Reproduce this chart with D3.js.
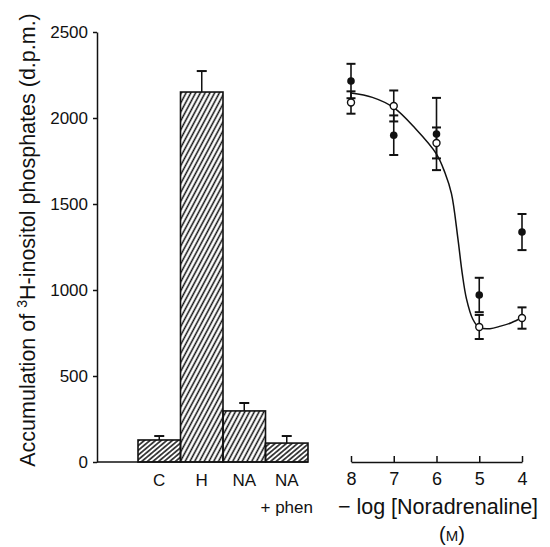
<!DOCTYPE html>
<html>
<head>
<meta charset="utf-8">
<script src="https://cdn.jsdelivr.net/npm/d3@7"></script>
<style>
  body { margin: 0; background: #fff; }
  text { font-family: "Liberation Sans", Arial, sans-serif; fill: #111; }
</style>
</head>
<body>
<script>
// Width and height
var w = 550;
var h = 547;

// Data - bar panel
var barLabels = ["C", "H", "NA", "NA"];
var barValues = [128, 2151, 297, 110];
var barErrors = [23, 122, 46, 41];
var barHatch = ["flat", "steep", "steep", "flat"];

// Data - concentration panel (-log [Noradrenaline])
var logConc = [8, 7, 6, 5, 4];
var openMeans = [2090, 2070, 1855, 785, 837];
var openSem = [65, 90, 90, 70, 62];
var filledMeans = [2215, 1900, 1907, 971, 1337];
var filledSem = [100, 115, 210, 100, 105];

// Fitted curve
var curveX = [8, 7.5, 7, 6.5, 6, 5.8, 5.65, 5.5, 5.4, 5.3, 5.15, 5, 4.75, 4.5, 4.25, 4];
var curveY = [2145, 2120, 2060, 1940, 1790, 1680, 1560, 1300, 1100, 950, 830, 782, 775, 790, 810, 840];

var yTicks = [0, 500, 1000, 1500, 2000, 2500];

var svg = d3.select("body")
            .append("svg")
            .attr("width", w)
            .attr("height", h);

// hatch patterns
var defs = svg.append("defs");
function hatch(id, angle, gap) {
  var p = defs.append("pattern")
              .attr("id", id)
              .attr("patternUnits", "userSpaceOnUse")
              .attr("width", gap)
              .attr("height", 10)
              .attr("patternTransform", "rotate(" + (90 - angle) + ")");
  p.append("line")
   .attr("x1", gap / 2).attr("y1", -2)
   .attr("x2", gap / 2).attr("y2", 12)
   .attr("stroke", "#111")
   .attr("stroke-width", 1.5);
}
hatch("flat", 40, 3.6);
hatch("steep", 62, 4.2);

// Scales
var y = d3.scaleLinear().domain([0, 2500]).range([462, 32]);
var xBar = d3.scaleBand().domain(d3.range(barValues.length)).range([138, 308]).padding(0);
var xLog = d3.scaleLinear().domain([8, 4]).range([351, 522]);

// Left axis
var yAxis = svg.append("g")
   .attr("transform", "translate(97,0)")
   .call(d3.axisLeft(y).tickValues(yTicks).tickFormat(d3.format("d"))
           .tickSizeInner(4).tickSizeOuter(0).tickPadding(5));
yAxis.select(".domain").attr("stroke", "#111").attr("stroke-width", 1.5);
yAxis.selectAll(".tick line").attr("stroke", "#111").attr("stroke-width", 1.5);
yAxis.selectAll("text").attr("font-size", "17px").attr("font-family", "Liberation Sans, Arial, sans-serif").attr("fill", "#111");

// baseline
svg.append("line")
   .attr("x1", 97).attr("x2", 308)
   .attr("y1", y(0)).attr("y2", y(0))
   .attr("stroke", "#111").attr("stroke-width", 1.5);

// Bars
svg.selectAll("rect.bar")
   .data(barValues)
   .enter()
   .append("rect")
   .attr("class", "bar")
   .attr("x", function(d, i) { return xBar(i); })
   .attr("y", function(d) { return y(d); })
   .attr("width", xBar.bandwidth())
   .attr("height", function(d) { return y(0) - y(d); })
   .attr("fill", function(d, i) { return "url(#" + barHatch[i] + ")"; })
   .attr("stroke", "#111")
   .attr("stroke-width", 1.6);

// Bar error bars (upper only)
barValues.forEach(function(d, i) {
  var cx = xBar(i) + xBar.bandwidth() / 2;
  svg.append("line")
     .attr("x1", cx).attr("x2", cx)
     .attr("y1", y(d)).attr("y2", y(d + barErrors[i]))
     .attr("stroke", "#111").attr("stroke-width", 1.5);
  svg.append("line")
     .attr("x1", cx - 5).attr("x2", cx + 5)
     .attr("y1", y(d + barErrors[i])).attr("y2", y(d + barErrors[i]))
     .attr("stroke", "#111").attr("stroke-width", 2);
});

// Bar labels
svg.selectAll("text.barlabel")
   .data(barLabels)
   .enter()
   .append("text")
   .attr("class", "barlabel")
   .attr("x", function(d, i) { return xBar(i) + xBar.bandwidth() / 2; })
   .attr("y", 486)
   .attr("text-anchor", "middle")
   .attr("font-size", "17px")
   .text(function(d) { return d; });

svg.append("text")
   .attr("x", xBar(3) + xBar.bandwidth() / 2)
   .attr("y", 513)
   .attr("text-anchor", "middle")
   .attr("font-size", "17px")
   .text("+ phen");

// Right x axis
var xAxis = svg.append("g")
   .attr("transform", "translate(0," + y(0) + ")")
   .call(d3.axisBottom(xLog).tickValues(logConc).tickSizeInner(-6).tickSizeOuter(0).tickPadding(10).tickFormat(d3.format("d")));
xAxis.select(".domain").attr("stroke", "#111").attr("stroke-width", 1.5);
xAxis.selectAll(".tick line").attr("stroke", "#111").attr("stroke-width", 1.5);
xAxis.selectAll("text").attr("font-size", "18px").attr("font-family", "Liberation Sans, Arial, sans-serif").attr("fill", "#111");

// Fitted curve
var curvePts = curveX.map(function(d, i) { return [d, curveY[i]]; });
svg.append("path")
   .datum(curvePts)
   .attr("d", d3.line()
                .x(function(d) { return xLog(d[0]); })
                .y(function(d) { return y(d[1]); })
                .curve(d3.curveCatmullRom))
   .attr("fill", "none")
   .attr("stroke", "#111")
   .attr("stroke-width", 1.5);

// Error bars for the points
function errorBars(means, sem) {
  means.forEach(function(d, i) {
    var cx = xLog(logConc[i]);
    svg.append("line")
       .attr("x1", cx).attr("x2", cx)
       .attr("y1", y(d - sem[i])).attr("y2", y(d + sem[i]))
       .attr("stroke", "#111").attr("stroke-width", 1.6);
    [d - sem[i], d + sem[i]].forEach(function(v) {
      svg.append("line")
         .attr("x1", cx - 4.5).attr("x2", cx + 4.5)
         .attr("y1", y(v)).attr("y2", y(v))
         .attr("stroke", "#111").attr("stroke-width", 2);
    });
  });
}
errorBars(filledMeans, filledSem);
errorBars(openMeans, openSem);

svg.selectAll("circle.open")
   .data(openMeans)
   .enter()
   .append("circle")
   .attr("class", "open")
   .attr("cx", function(d, i) { return xLog(logConc[i]); })
   .attr("cy", function(d) { return y(d); })
   .attr("r", 3.5)
   .attr("fill", "white")
   .attr("stroke", "#111")
   .attr("stroke-width", 1.4);

svg.selectAll("circle.filled")
   .data(filledMeans)
   .enter()
   .append("circle")
   .attr("class", "filled")
   .attr("cx", function(d, i) { return xLog(logConc[i]); })
   .attr("cy", function(d) { return y(d); })
   .attr("r", 3.8)
   .attr("fill", "#111");

// Axis titles
var yTitle = svg.append("text")
   .attr("transform", "translate(35,240) rotate(-90)")
   .attr("text-anchor", "middle")
   .attr("font-size", "21.5px");
yTitle.append("tspan").text("Accumulation of ");
yTitle.append("tspan").attr("font-size", "14px").attr("dy", -8).text("3");
yTitle.append("tspan").attr("dy", 8).text("H-inositol phosphates (d.p.m.)");

svg.append("text")
   .attr("x", 438)
   .attr("y", 514)
   .attr("text-anchor", "middle")
   .attr("font-size", "21.5px")
   .text("\u2212 log [Noradrenaline]");

var unit = svg.append("text")
   .attr("x", 452)
   .attr("y", 541)
   .attr("text-anchor", "middle")
   .attr("font-size", "20px");
unit.append("tspan").text("(");
unit.append("tspan").attr("font-size", "15px").text("M");
unit.append("tspan").text(")");
</script>
</body>
</html>
